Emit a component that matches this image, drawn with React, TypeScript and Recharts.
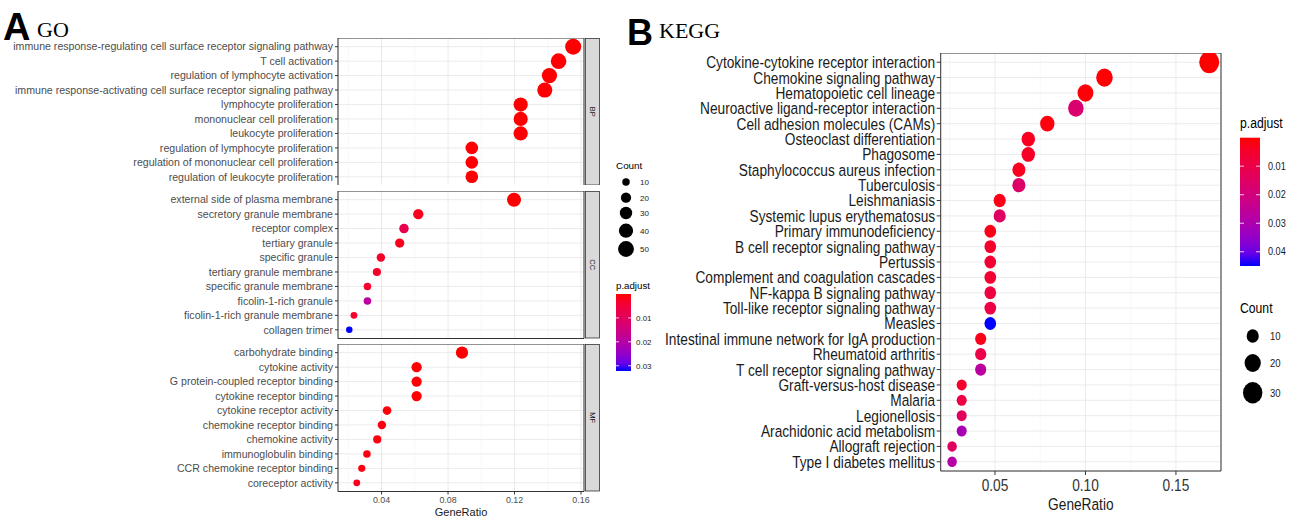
import React from 'react'
import { ScatterChart, Scatter, XAxis, YAxis, ZAxis, CartesianGrid, ReferenceLine } from 'recharts'

const SANS = '"Liberation Sans", Arial, sans-serif'
const SERIF = '"Liberation Serif", "Times New Roman", serif'

// ---------- GO data (top to bottom inside each facet) ----------
const bpTerms = [
  'immune response-regulating cell surface receptor signaling pathway',
  'T cell activation',
  'regulation of lymphocyte activation',
  'immune response-activating cell surface receptor signaling pathway',
  'lymphocyte proliferation',
  'mononuclear cell proliferation',
  'leukocyte proliferation',
  'regulation of lymphocyte proliferation',
  'regulation of mononuclear cell proliferation',
  'regulation of leukocyte proliferation',
]
const bpRatio = [0.1553, 0.1465, 0.141, 0.1382, 0.1237, 0.1237, 0.1237, 0.0943, 0.0943, 0.0943]
const bpCount = [51, 48, 46, 45, 40, 40, 40, 31, 31, 31]
const bpPadj = [0.0001, 0.0001, 0.0001, 0.0002, 0.0001, 0.0001, 0.0001, 0.0002, 0.0002, 0.0002]

const ccTerms = [
  'external side of plasma membrane',
  'secretory granule membrane',
  'receptor complex',
  'tertiary granule',
  'specific granule',
  'tertiary granule membrane',
  'specific granule membrane',
  'ficolin-1-rich granule',
  'ficolin-1-rich granule membrane',
  'collagen trimer',
]
const ccRatio = [0.1197, 0.0621, 0.0535, 0.0509, 0.0396, 0.0372, 0.0315, 0.0315, 0.0234, 0.0206]
const ccCount = [39, 20, 17, 16, 13, 12, 10, 10, 8, 7]
const ccPadj = [0.0001, 0.002, 0.008, 0.002, 0.003, 0.003, 0.004, 0.019, 0.003, 0.0322]

const mfTerms = [
  'carbohydrate binding',
  'cytokine activity',
  'G protein-coupled receptor binding',
  'cytokine receptor binding',
  'cytokine receptor activity',
  'chemokine receptor binding',
  'chemokine activity',
  'immunoglobulin binding',
  'CCR chemokine receptor binding',
  'coreceptor activity',
]
const mfRatio = [0.0884, 0.0611, 0.0611, 0.0611, 0.0433, 0.0402, 0.0374, 0.0312, 0.0281, 0.0251]
const mfCount = [29, 20, 20, 20, 14, 13, 12, 10, 9, 8]
const mfPadj = [0.0002, 0.0001, 0.0003, 0.0001, 0.0005, 0.001, 0.001, 0.001, 0.001, 0.002]

const goTicks = [0.04, 0.08, 0.12, 0.16]
const goMinor = [0.02, 0.06, 0.1, 0.14]
const goCountBreaks = [10, 20, 30, 40, 50]
const goPadjBreaks = [0.01, 0.02, 0.03]

// ---------- KEGG data (top to bottom) ----------
const keggTerms = [
  'Cytokine-cytokine receptor interaction',
  'Chemokine signaling pathway',
  'Hematopoietic cell lineage',
  'Neuroactive ligand-receptor interaction',
  'Cell adhesion molecules (CAMs)',
  'Osteoclast differentiation',
  'Phagosome',
  'Staphylococcus aureus infection',
  'Tuberculosis',
  'Leishmaniasis',
  'Systemic lupus erythematosus',
  'Primary immunodeficiency',
  'B cell receptor signaling pathway',
  'Pertussis',
  'Complement and coagulation cascades',
  'NF-kappa B signaling pathway',
  'Toll-like receptor signaling pathway',
  'Measles',
  'Intestinal immune network for IgA production',
  'Rheumatoid arthritis',
  'T cell receptor signaling pathway',
  'Graft-versus-host disease',
  'Malaria',
  'Legionellosis',
  'Arachidonic acid metabolism',
  'Allograft rejection',
  'Type I diabetes mellitus',
]
const keggRatio = [
  0.1684, 0.1105, 0.1, 0.0947, 0.0789, 0.0684, 0.0684, 0.0632, 0.0632, 0.0526, 0.0526, 0.0474, 0.0474, 0.0474,
  0.0474, 0.0474, 0.0474, 0.0474, 0.0421, 0.0421, 0.0421, 0.0316, 0.0316, 0.0316, 0.0316, 0.0263, 0.0263,
]
const keggCount = [32, 21, 19, 18, 15, 13, 13, 12, 12, 10, 10, 9, 9, 9, 9, 9, 9, 9, 8, 8, 8, 6, 6, 6, 6, 5, 5]
const keggPadj = [
  0.00001, 0.0002, 0.0005, 0.017, 0.001, 0.003, 0.004, 0.003, 0.016, 0.002, 0.015, 0.002, 0.005, 0.006, 0.006,
  0.008, 0.009, 0.045, 0.002, 0.01, 0.027, 0.005, 0.009, 0.014, 0.031, 0.014, 0.028,
]
const keggTicks = [0.05, 0.1, 0.15]
const keggMinor = [0.025, 0.075, 0.125]
const keggCountBreaks = [10, 20, 30]
const keggPadjBreaks = [0.01, 0.02, 0.03, 0.04]

// ---------- colour ramp red -> blue, interpolated in Lab like ggplot ----------
type Vec = [number, number, number]
const WHITE: Vec = [0.95047, 1, 1.08883]
const toLin = (c: number) => {
  const v = c / 255
  return v <= 0.04045 ? v / 12.92 : Math.pow((v + 0.055) / 1.055, 2.4)
}
const fromLin = (v: number) => {
  const c = v <= 0.0031308 ? 12.92 * v : 1.055 * Math.pow(v, 1 / 2.4) - 0.055
  return Math.round(Math.max(0, Math.min(1, c)) * 255)
}
const fLab = (t: number) => (t > 216 / 24389 ? Math.cbrt(t) : (24389 / 27 * t + 16) / 116)
const fInv = (t: number) => (t > 6 / 29 ? t * t * t : (116 * t - 16) / (24389 / 27))
const rgbToLab = ([r, g, b]: Vec): Vec => {
  const R = toLin(r), G = toLin(g), B = toLin(b)
  const X = (0.4124 * R + 0.3576 * G + 0.1805 * B) / WHITE[0]
  const Y = 0.2126 * R + 0.7152 * G + 0.0722 * B
  const Z = (0.0193 * R + 0.1192 * G + 0.9505 * B) / WHITE[2]
  return [116 * fLab(Y) - 16, 500 * (fLab(X) - fLab(Y)), 200 * (fLab(Y) - fLab(Z))]
}
const labToHex = ([L, a, b]: Vec) => {
  const fy = (L + 16) / 116
  const X = fInv(fy + a / 500) * WHITE[0]
  const Y = fInv(fy)
  const Z = fInv(fy - b / 200) * WHITE[2]
  const rgb = [
    3.2406 * X - 1.5372 * Y - 0.4986 * Z,
    -0.9689 * X + 1.8758 * Y + 0.0415 * Z,
    0.0557 * X - 0.204 * Y + 1.057 * Z,
  ]
  return '#' + rgb.map((v) => fromLin(v).toString(16).padStart(2, '0')).join('')
}
const LOW = rgbToLab([255, 0, 0])
const HIGH = rgbToLab([0, 0, 255])
const makeRamp = (max: number) => (p: number) => {
  const t = Math.max(0, Math.min(1, p / max))
  return labToHex([0, 1, 2].map((k) => LOW[k] + (HIGH[k] - LOW[k]) * t) as Vec)
}
const goMaxP = 0.0322
const keggMaxP = 0.045
const goColor = makeRamp(goMaxP)
const keggColor = makeRamp(keggMaxP)

// size scales (area, px^2) shared by chart ZAxis and legends
const goCountDomain = [7, 51]
const goArea = [33, 201]
const keggCountDomain = [5, 32]
const keggArea = [71, 314]
const areaOf = (c: number, dom: number[], rng: number[]) => rng[0] + ((c - dom[0]) / (dom[1] - dom[0])) * (rng[1] - rng[0])

const KEGG_SX = 0.83

const scaleOf = (axis: any) => (v: number) => {
  const s = axis?.scale
  if (typeof s === 'function') return s(v)
  if (s && typeof s.map === 'function') return s.map(v)
  return 0
}

// ---------- panel A facet ----------
const PANEL_A_LEFT = 338
const PANEL_A_RIGHT = 584
const PANEL_A_H = 147.5
const goDomain = [0.0138, 0.1618]

const goDot = (props: any) => {
  const { cx, cy, size, width, payload } = props
  if (cx == null || cy == null) return <g />
  const r = size ? Math.sqrt(size / Math.PI) : (width || 8) / 2
  return <circle cx={cx} cy={cy} r={r} fill={goColor(payload.p)} />
}

interface FacetProps {
  terms: string[]
  ratio: number[]
  count: number[]
  padj: number[]
  top: number
  strip: string
  showAxis?: boolean
}

const GoFacet: React.FC<FacetProps> = ({ terms, ratio, count, padj, top, strip, showAxis }) => {
  const n = terms.length
  const rows = terms.map((t, i) => ({ term: t, pos: n - i, ratio: ratio[i], count: count[i], p: padj[i] }))
  const axisH = showAxis ? 25 : 0
  const yTick = (props: any) => (
    <text x={props.x} y={props.y} dy="0.36em" textAnchor="end" fontSize={10.6} fill="#4D4D4D" fontFamily={SANS}>
      {terms[n - props.payload.value]}
    </text>
  )
  return (
    <div style={{ position: 'absolute', left: 0, top }}>
      <ScatterChart width={PANEL_A_RIGHT + 36} height={PANEL_A_H + axisH} margin={{ top: 0, right: 36, bottom: 0, left: 0 }}>
        <CartesianGrid stroke="#EBEBEB" strokeWidth={1} />
        <CartesianGrid
          horizontal={false}
          stroke="#F2F2F2"
          strokeWidth={0.6}
          verticalCoordinatesGenerator={({ xAxis }: any) => goMinor.map(scaleOf(xAxis))}
        />
        <XAxis
          type="number"
          dataKey="ratio"
          domain={goDomain}
          ticks={goTicks}
          interval={0}
          hide={!showAxis}
          height={axisH}
          axisLine={false}
          tickSize={3}
          tickMargin={2}
          tickLine={{ stroke: '#333333' }}
          tick={{ fill: '#4D4D4D', fontSize: 8.9 }}
          tickFormatter={(v: number) => v.toFixed(2)}
        />
        <YAxis
          type="number"
          dataKey="pos"
          domain={[0.4, n + 0.6]}
          ticks={rows.map((r) => r.pos)}
          interval={0}
          width={PANEL_A_LEFT}
          axisLine={false}
          tickSize={3}
          tickMargin={2}
          tickLine={{ stroke: '#333333' }}
          tick={yTick}
        />
        <ZAxis type="number" dataKey="count" domain={goCountDomain} range={goArea} />
        <ReferenceLine x={goDomain[0]} stroke="#333333" ifOverflow="visible" />
        <ReferenceLine x={goDomain[1]} stroke="#333333" ifOverflow="visible" />
        <ReferenceLine y={0.4} stroke="#333333" ifOverflow="visible" />
        <ReferenceLine y={n + 0.6} stroke="#333333" ifOverflow="visible" />
        <Scatter data={rows} isAnimationActive={false} shape={goDot} />
      </ScatterChart>
      <svg style={{ position: 'absolute', left: 585, top: 0 }} width={16} height={PANEL_A_H}>
        <rect x={0.5} y={0.5} width={14} height={PANEL_A_H - 1} fill="#D9D9D9" stroke="#333333" strokeWidth={0.8} />
        <text
          transform={`translate(7.5,${PANEL_A_H / 2}) rotate(90)`}
          textAnchor="middle"
          dy="0.35em"
          fontSize={7.5}
          fill="#1A1A1A"
          fontFamily={SANS}
        >
          {strip}
        </text>
      </svg>
    </div>
  )
}

// ---------- panel B ----------
const keggDomain = [0.02, 0.1749]
const PANEL_B_LEFT = 940.7
const PANEL_B_RIGHT = 1221
const PANEL_B_TOP = 52.7
const PANEL_B_H = 418

const keggDot = (props: any) => {
  const { cx, cy, size, width, payload } = props
  if (cx == null || cy == null) return <g />
  const r = size ? Math.sqrt(size / Math.PI) : (width || 8) / 2
  return <ellipse cx={cx} cy={cy} rx={r} ry={r * 1.1} fill={keggColor(payload.p)} />
}

const KeggYTick = (props: any) => {
  const { x, y, payload } = props
  const label = keggTerms[keggTerms.length - payload.value]
  return (
    <g transform={`translate(${x},${y})`}>
      <text transform={`scale(${KEGG_SX},1)`} textAnchor="end" dy="0.36em" fontSize={16.5} fill="#1A1A1A" fontFamily={SANS}>
        {label}
      </text>
    </g>
  )
}

const KeggXTick = (props: any) => {
  const { x, y, payload } = props
  return (
    <g transform={`translate(${x},${y})`}>
      <text transform={`scale(${KEGG_SX},1)`} textAnchor="middle" dy="0.71em" fontSize={16.5} fill="#333333" fontFamily={SANS}>
        {Number(payload.value).toFixed(2)}
      </text>
    </g>
  )
}

const KeggPanel: React.FC = () => {
  const n = keggTerms.length
  const rows = keggTerms.map((t, i) => ({
    term: t,
    pos: n - i,
    ratio: keggRatio[i],
    count: keggCount[i],
    p: keggPadj[i],
  }))
  return (
    <div style={{ position: 'absolute', left: 640, top: PANEL_B_TOP }}>
      <ScatterChart
        width={PANEL_B_RIGHT - 640 + 2}
        height={PANEL_B_H + 46}
        margin={{ top: 0, right: 2, bottom: 0, left: 0 }}
      >
        <CartesianGrid stroke="#EBEBEB" strokeWidth={1} />
        <CartesianGrid
          horizontal={false}
          stroke="#F2F2F2"
          strokeWidth={0.6}
          verticalCoordinatesGenerator={({ xAxis }: any) => keggMinor.map(scaleOf(xAxis))}
        />
        <XAxis
          type="number"
          dataKey="ratio"
          domain={keggDomain}
          ticks={keggTicks}
          interval={0}
          height={46}
          axisLine={false}
          tickSize={4}
          tickMargin={4}
          tickLine={{ stroke: '#333333' }}
          tick={<KeggXTick />}
        />
        <YAxis
          type="number"
          dataKey="pos"
          domain={[0.4, n + 0.6]}
          ticks={rows.map((r) => r.pos)}
          interval={0}
          width={PANEL_B_LEFT - 640}
          axisLine={false}
          tickSize={4}
          tickMargin={1.5}
          tickLine={{ stroke: '#333333' }}
          tick={<KeggYTick />}
        />
        <ZAxis type="number" dataKey="count" domain={keggCountDomain} range={keggArea} />
        <ReferenceLine x={keggDomain[0]} stroke="#333333" ifOverflow="visible" />
        <ReferenceLine x={keggDomain[1]} stroke="#333333" ifOverflow="visible" />
        <ReferenceLine y={0.4} stroke="#333333" ifOverflow="visible" />
        <ReferenceLine y={n + 0.6} stroke="#333333" ifOverflow="visible" />
        <Scatter data={rows} isAnimationActive={false} shape={keggDot} />
      </ScatterChart>
    </div>
  )
}

// ---------- legends and titles ----------
const gradientStops = (ramp: (p: number) => string, max: number) =>
  Array.from({ length: 11 }, (_, k) => <stop key={k} offset={`${k * 10}%`} stopColor={ramp((max * k) / 10)} />)

const Overlay: React.FC = () => {
  // GO colour bar
  const gBarTop = 294
  const gBarH = 77
  const gY = (p: number) => gBarTop + (p / goMaxP) * gBarH
  const goKeyY = [182, 197.7, 213, 230.7, 249]
  // KEGG colour bar
  const kBarTop = 137.7
  const kBarH = 128.3
  const kY = (p: number) => kBarTop + (p / keggMaxP) * kBarH
  const keggKeyY = [336, 363, 392.7]
  return (
    <svg style={{ position: 'absolute', left: 0, top: 0 }} width={1296} height={517}>
      <defs>
        <linearGradient id="goGrad" x1="0" y1="0" x2="0" y2="1">
          {gradientStops(goColor, goMaxP)}
        </linearGradient>
        <linearGradient id="keggGrad" x1="0" y1="0" x2="0" y2="1">
          {gradientStops(keggColor, keggMaxP)}
        </linearGradient>
      </defs>

      {/* panel titles */}
      <text x={3} y={40} fontSize={38} fontWeight="bold" fontFamily={SANS} fill="#000">A</text>
      <text x={37} y={37} fontSize={22} fontFamily={SERIF} fill="#000">GO</text>
      <text x={627} y={45} fontSize={36} fontWeight="bold" fontFamily={SANS} fill="#000">B</text>
      <text x={659} y={38} fontSize={22} fontFamily={SERIF} fill="#000">KEGG</text>

      {/* A axis title */}
      <text x={(PANEL_A_LEFT + PANEL_A_RIGHT) / 2} y={516} textAnchor="middle" fontSize={11} fontFamily={SANS} fill="#1A1A1A">
        GeneRatio
      </text>

      {/* A legends */}
      <text x={616} y={168.5} fontSize={9.9} fontFamily={SANS} fill="#000">Count</text>
      {goCountBreaks.map((c, i) => (
        <g key={c}>
          <circle cx={626} cy={goKeyY[i]} r={Math.sqrt(areaOf(c, goCountDomain, goArea) / Math.PI)} fill="#000" />
          <text x={640} y={goKeyY[i] + 2.8} fontSize={8} fontFamily={SANS} fill="#1A1A1A">{c}</text>
        </g>
      ))}
      <text x={616} y={288.5} fontSize={9.7} fontFamily={SANS} fill="#000">p.adjust</text>
      <rect x={616} y={gBarTop} width={15} height={gBarH} fill="url(#goGrad)" />
      {goPadjBreaks.map((p) => (
        <g key={p}>
          <line x1={616} x2={619} y1={gY(p)} y2={gY(p)} stroke="#fff" strokeWidth={0.8} />
          <line x1={628} x2={631} y1={gY(p)} y2={gY(p)} stroke="#fff" strokeWidth={0.8} />
          <text x={636} y={gY(p) + 2.8} fontSize={8} fontFamily={SANS} fill="#1A1A1A">{p.toFixed(2)}</text>
        </g>
      ))}

      {/* B axis title */}
      <g transform={`translate(${(PANEL_B_LEFT + PANEL_B_RIGHT) / 2},510)`}>
        <text transform={`scale(${KEGG_SX},1)`} textAnchor="middle" fontSize={16.5} fontFamily={SANS} fill="#1A1A1A">
          GeneRatio
        </text>
      </g>

      {/* B legends */}
      <g transform="translate(1240,128)">
        <text transform={`scale(${KEGG_SX},1)`} fontSize={14.7} fontFamily={SANS} fill="#000">p.adjust</text>
      </g>
      <rect x={1240} y={kBarTop} width={20} height={kBarH} fill="url(#keggGrad)" />
      {keggPadjBreaks.map((p) => (
        <g key={p}>
          <line x1={1240} x2={1244} y1={kY(p)} y2={kY(p)} stroke="#fff" strokeWidth={0.8} />
          <line x1={1256} x2={1260} y1={kY(p)} y2={kY(p)} stroke="#fff" strokeWidth={0.8} />
          <g transform={`translate(1268,${kY(p) + 3.6})`}>
            <text transform={`scale(${KEGG_SX},1)`} fontSize={11} fontFamily={SANS} fill="#1A1A1A">{p.toFixed(2)}</text>
          </g>
        </g>
      ))}
      <g transform="translate(1240,313)">
        <text transform={`scale(${KEGG_SX},1)`} fontSize={14.7} fontFamily={SANS} fill="#000">Count</text>
      </g>
      {keggCountBreaks.map((c, i) => {
        const r = Math.sqrt(areaOf(c, keggCountDomain, keggArea) / Math.PI)
        return (
          <g key={c}>
            <ellipse cx={1252.7} cy={keggKeyY[i]} rx={r} ry={r * 1.1} fill="#000" />
            <g transform={`translate(1270,${keggKeyY[i] + 3.8})`}>
              <text transform={`scale(${KEGG_SX},1)`} fontSize={11.5} fontFamily={SANS} fill="#1A1A1A">{c}</text>
            </g>
          </g>
        )
      })}
    </svg>
  )
}

const App: React.FC = () => {
  return (
    <div
      style={{
        position: 'absolute',
        left: 0,
        top: 0,
        width: 1296,
        height: 517,
        background: '#fff',
        overflow: 'hidden',
        fontFamily: SANS,
      }}
    >
      <GoFacet terms={bpTerms} ratio={bpRatio} count={bpCount} padj={bpPadj} top={37.5} strip="BP" />
      <GoFacet terms={ccTerms} ratio={ccRatio} count={ccCount} padj={ccPadj} top={191} strip="CC" />
      <GoFacet terms={mfTerms} ratio={mfRatio} count={mfCount} padj={mfPadj} top={344.3} strip="MF" showAxis />
      <KeggPanel />
      <Overlay />
    </div>
  )
}

export default App
